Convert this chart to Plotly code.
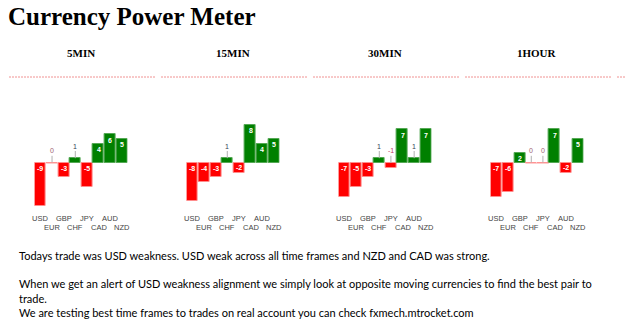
import plotly.graph_objects as go

W, H = 625, 334

currencies = ["USD", "EUR", "GBP", "CHF", "JPY", "CAD", "AUD", "NZD"]
timeframes = ["5MIN", "15MIN", "30MIN", "1HOUR"]
values_5min = [-9, 0, -3, 1, -5, 4, 6, 5]
values_15min = [-8, -4, -3, 1, -2, 8, 4, 5]
values_30min = [-7, -5, -3, 1, -1, 7, 1, 7]
values_1hour = [-7, -6, 2, 0, 0, 7, -2, 5]
all_values = [values_5min, values_15min, values_30min, values_1hour]

title_text = "Currency Power Meter"
body_lines = [
    "Todays trade was USD weakness. USD weak across all time frames and NZD and CAD was strong.",
    "When we get an alert of USD weakness alignment we simply look at opposite moving currencies to find the best pair to",
    "trade.",
    "We are testing best time frames to trades on real account you can check fxmech.mtrocket.com",
]

RED = "#ff0000"
GREEN = "#008000"
PX_PER_UNIT = 4.8
ZERO_PY = 163
TOP_PY, BOT_PY = 100, 215


def px(x):
    return x / W


def py(y):
    return 1 - y / H


fig = go.Figure()
annotations = []
shapes = []

y_top = (ZERO_PY - TOP_PY) / PX_PER_UNIT
y_bot = -(BOT_PY - ZERO_PY) / PX_PER_UNIT

for k, (tf, vals) in enumerate(zip(timeframes, all_values)):
    ax = "" if k == 0 else str(k + 1)
    xref = "x" + ax
    yref = "y" + ax
    left = 34.6 + 152 * k
    right = left + 93
    idx = list(range(len(currencies)))
    colors = [GREEN if v > 0 else RED for v in vals]
    lcolors = ["#55a855" if v > 0 else "#ff8c8c" for v in vals]
    fig.add_trace(go.Bar(
        x=idx, y=vals, width=0.94,
        marker=dict(color=colors, line=dict(color=lcolors, width=1)),
        xaxis=xref, yaxis=yref, showlegend=False, hoverinfo="skip",
    ))
    fig.layout["xaxis" + ax] = dict(domain=[px(left), px(right)], range=[-0.5, 7.5],
                                     visible=False, fixedrange=True)
    fig.layout["yaxis" + ax] = dict(domain=[py(BOT_PY), py(TOP_PY)], range=[y_bot, y_top],
                                     visible=False, fixedrange=True)
    cx = (left + right) / 2
    # header
    annotations.append(dict(text="<b>%s</b>" % tf, x=px(cx), y=py(53), xref="paper", yref="paper",
                            showarrow=False, xanchor="center", yanchor="middle",
                            font=dict(family="Liberation Serif", size=11, color="#000")))
    # value labels
    for i, v in enumerate(vals):
        if abs(v) >= 2:
            off = min(1.25, abs(v) / 2)
            ly = v - off if v > 0 else -off
            annotations.append(dict(text="<b>%d</b>" % v, x=i, y=ly, xref=xref, yref=yref,
                                    showarrow=False, xanchor="center", yanchor="middle",
                                    font=dict(family="Liberation Sans", size=7, color="#ffffff")))
        else:
            base = max(v, 0)
            shapes.append(dict(type="line", xref=xref, yref=yref, x0=i, x1=i,
                               y0=base, y1=base + 1.5, line=dict(color="#b0b0b0", width=1)))
            col = "#c04060" if v < 0 else ("#a06070" if v == 0 else "#334455")
            annotations.append(dict(text="%d" % v, x=i, y=base + 2.5, xref=xref, yref=yref,
                                    showarrow=False, xanchor="center", yanchor="middle",
                                    font=dict(family="Liberation Sans", size=7, color=col)))
            if v == 0:
                shapes.append(dict(type="line", xref=xref, yref=yref, x0=i - 0.5, x1=i + 0.5,
                                   y0=0, y1=0, line=dict(color="#ff9a9a", width=1)))
    # category labels, staggered
    for i, c in enumerate(currencies):
        ypx = 218 if i % 2 == 0 else 227
        annotations.append(dict(text=c, x=i, y=py(ypx), xref=xref, yref="paper",
                                showarrow=False, xanchor="center", yanchor="middle",
                                font=dict(family="Liberation Sans", size=7.5, color="#444")))

# dashed separators
for k in range(5):
    x0 = 9 + 152 * k
    x1 = min(x0 + 146, W + 5)
    shapes.append(dict(type="line", xref="paper", yref="paper", x0=px(x0), x1=px(x1),
                       y0=py(77), y1=py(77),
                       line=dict(color="rgba(235,110,110,0.75)", width=1, dash="2px,1px")))

# title
annotations.append(dict(text="<b>%s</b>" % title_text, x=px(6), y=py(16), xref="paper", yref="paper",
                        showarrow=False, xanchor="left", yanchor="middle",
                        font=dict(family="Liberation Serif", size=25, color="#000")))

# body text
for txt, ypx in zip(body_lines, [255, 283, 298, 312]):
    annotations.append(dict(text=txt, x=px(17), y=py(ypx), xref="paper", yref="paper",
                            showarrow=False, xanchor="left", yanchor="middle",
                            font=dict(family="Lato", size=11, color="#000")))

fig.update_layout(width=W, height=H, margin=dict(l=0, r=0, t=0, b=0),
                  paper_bgcolor="white", plot_bgcolor="white",
                  annotations=annotations, shapes=shapes, bargap=0)

fig.write_html("out.html", config={"displayModeBar": False})
